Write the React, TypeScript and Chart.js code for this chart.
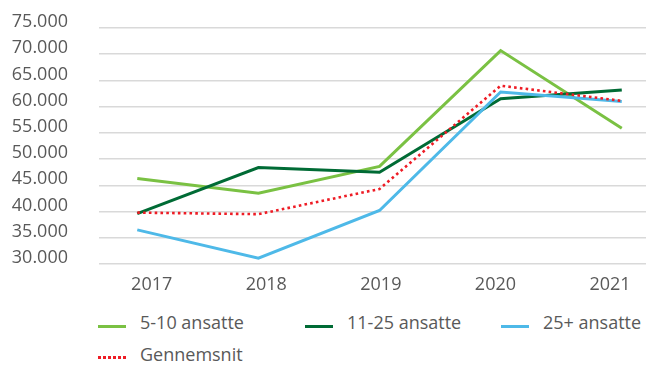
import React, { useEffect, useRef } from "react";
import { Chart, registerables } from "chart.js";

Chart.register(...registerables);

// Average salary by company size, 2017-2021
const years = ["2017", "2018", "2019", "2020", "2021"];
const seriesNames = ["5-10 ansatte", "11-25 ansatte", "25+ ansatte", "Gennemsnit"];
const small = [46300, 43500, 48600, 70700, 55900];
const medium = [39600, 48400, 47500, 61500, 63200];
const large = [36500, 31100, 40200, 62800, 61000];
const average = [39800, 39500, 44300, 64000, 61100];

const yMin = 30000;
const yMax = 75000;
const yStep = 5000;

const colors = ["#7ac143", "#006b35", "#4eb9e8", "#ee1c25"];
const textColor = "#595959";
const fontFamily = "'Open Sans', sans-serif";

const formatThousands = (v: number) =>
  Math.round(v).toString().replace(/\B(?=(\d{3})+(?!\d))/g, ".");

const toPoints = (vals: number[]) => vals.map((y, x) => ({ x, y }));

export default function App() {
  const canvasRef = useRef<HTMLCanvasElement | null>(null);

  useEffect(() => {
    if (!canvasRef.current) return;
    Chart.defaults.font.family = fontFamily;
    Chart.defaults.font.size = 18;
    Chart.defaults.color = textColor;

    const series = [small, medium, large, average];
    const chart = new Chart(canvasRef.current, {
      type: "line",
      data: {
        datasets: series.map((vals, i) => ({
          label: seriesNames[i],
          data: toPoints(vals),
          borderColor: colors[i],
          backgroundColor: colors[i],
          borderWidth: i === 3 ? 2.6 : 3,
          borderDash: i === 3 ? [2.6, 3.2] : [],
          pointRadius: 0,
          tension: 0,
          xAxisID: "xd",
          order: 3 - i,
        })),
      },
      options: {
        responsive: false,
        animation: false,
        events: [],
        layout: { padding: { top: 28, right: 0, bottom: 0, left: 0 } },
        plugins: {
          legend: { display: false },
          tooltip: { enabled: false },
        },
        scales: {
          // category labels along the bottom
          x: {
            type: "linear",
            position: "bottom",
            min: -0.46,
            max: 4.314,
            grid: { display: false, drawTicks: false },
            border: { display: false },
            afterBuildTicks: (axis: any) => {
              axis.ticks = years.map((_, i) => ({ value: i }));
            },
            afterFit: (axis: any) => {
              axis.height = 36;
            },
            ticks: {
              autoSkip: false,
              maxRotation: 0,
              padding: 10,
              color: textColor,
              font: { size: 18 },
              callback: (v: any) => years[v as number] ?? "",
            },
          },
          // positions of the data points
          xd: {
            type: "linear",
            position: "bottom",
            display: false,
            min: -0.316,
            max: 4.2,
          },
          y: {
            type: "linear",
            min: yMin,
            max: yMax,
            afterFit: (axis: any) => {
              axis.width = 99;
              axis.paddingTop = 0;
              axis.paddingBottom = 0;
            },
            grid: { color: "#d9d9d9", lineWidth: 1.5, drawTicks: false },
            border: { display: false },
            ticks: {
              stepSize: yStep,
              padding: 31,
              labelOffset: -6,
              color: textColor,
              font: { size: 18 },
              callback: (v: any) => formatThousands(Number(v)),
            },
          },
        },
      },
    } as any);
    return () => chart.destroy();
  }, []);

  return (
    <div
      style={{
        position: "absolute",
        left: 0,
        top: 0,
        width: 646,
        height: 365,
        background: "#ffffff",
        fontFamily,
        color: textColor,
      }}
    >
      <canvas ref={canvasRef} width={646} height={300} style={{ display: "block" }} />
      <div
        style={{
          position: "absolute",
          left: 98,
          top: 306,
          display: "grid",
          gridTemplateColumns: "207px 196px auto",
          gridAutoRows: "32px",
          fontSize: 18,
          lineHeight: "32px",
        }}
      >
        {seriesNames.map((name, i) => (
          <div key={name} style={{ position: "relative", height: 32, whiteSpace: "nowrap" }}>
            <span
              style={{
                position: "absolute",
                left: 0,
                top: i === 3 ? 18 : 19,
                width: 28,
                height: i === 3 ? 2.6 : 3,
                background:
                  i === 3
                    ? `repeating-linear-gradient(to right, ${colors[i]} 0 2.6px, transparent 2.6px 5px)`
                    : colors[i],
              }}
            />
            <span style={{ marginLeft: 42 }}>{name}</span>
          </div>
        ))}
      </div>
    </div>
  );
}
